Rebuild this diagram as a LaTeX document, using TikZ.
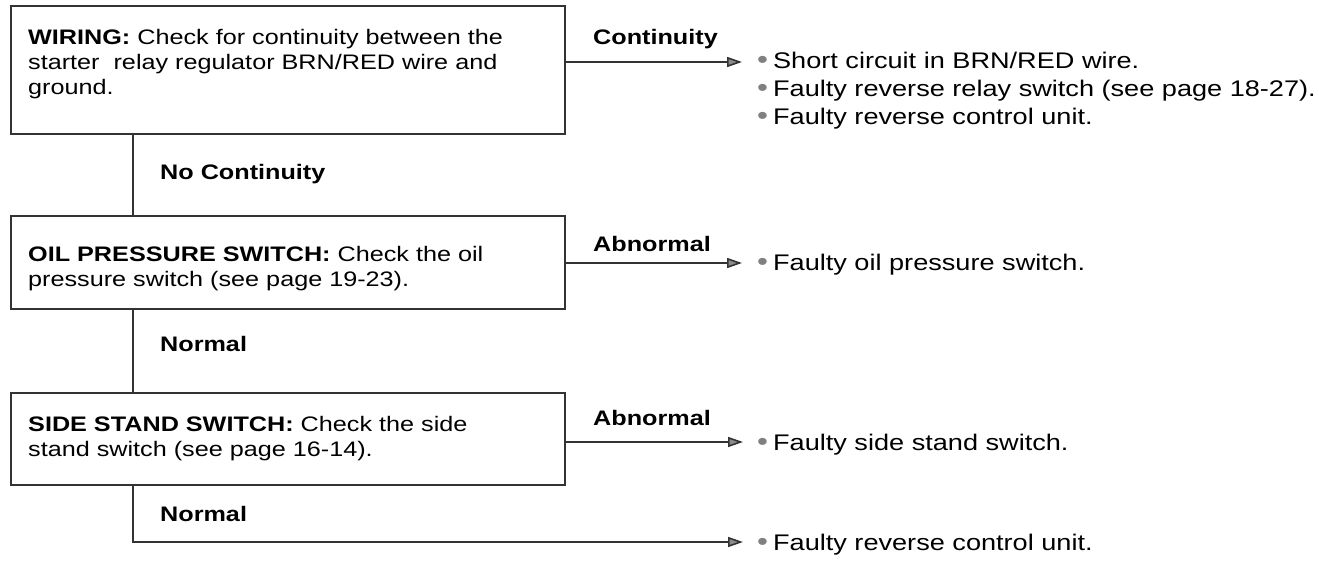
\documentclass[tikz,border=0pt]{standalone}
\usepackage{fontspec}
\setmainfont{Liberation Sans}[FakeStretch=1.2]
\usetikzlibrary{arrows.meta}
\newcommand{\bulmark}{{\color{black!50}\fontsize{26}{26}\selectfont •}\hspace{5pt}}
\begin{document}
\begin{tikzpicture}[x=1pt,y=-1pt,
  font=\fontsize{21}{25}\selectfont,
  box/.style={draw=black!80, line width=1.6pt, inner sep=0pt, minimum width=554pt},
  boxtext/.style={anchor=north west, inner sep=0pt, align=left},
  txt/.style={anchor=base west, inner sep=0pt, font=\fontsize{22.6}{27}\selectfont},
  lbl/.style={anchor=base west, inner sep=0pt, font=\fontsize{21}{25}\selectfont\bfseries},
  conn/.style={draw=black!80, line width=1.6pt},
  arr/.style={conn, -{Triangle[length=15pt,width=10pt,fill=black!45]}}]
\useasboundingbox (0,0) rectangle (1319,561);

% boxes
\node[box, minimum height=128pt] (b1) at (288,70) {};
\node[box, minimum height=93pt] (b2) at (288,262.5) {};
\node[box, minimum height=92pt] (b3) at (288,439) {};

\node[boxtext] (t1) at (28,29.5) {\textbf{WIRING:} Check for continuity between the\\starter~ relay regulator BRN/RED wire and\\ground.};
\node[boxtext] (t2) at (28,246.5) {\textbf{OIL PRESSURE SWITCH:} Check the oil\\pressure switch (see page 19-23).};
\node[boxtext] (t3) at (28,416.5) {\textbf{SIDE STAND SWITCH:} Check the side\\stand switch (see page 16-14).};

% vertical connectors
\coordinate (v) at (133,0);
\draw[conn] (v |- b1.south) -- (v |- b2.north);
\draw[conn] (v |- b2.south) -- (v |- b3.north);

% arrow ends
\coordinate (e1) at (742,62);
\coordinate (e2) at (742,263);
\coordinate (e3) at (743,442);
\coordinate (e4) at (743,542);

\draw[arr] (b1.east |- e1) -- (e1);
\draw[arr] (b2.east |- e2) -- (e2);
\draw[arr] (b3.east |- e3) -- (e3);
\draw[arr] (v |- b3.south) |- (e4);

% labels
\node[lbl] (l1) at (593,45) {Continuity};
\node[lbl] (l2) at (160,180) {No Continuity};
\node[lbl] (l3) at (593,252) {Abnormal};
\node[lbl] (l4) at (160,351) {Normal};
\node[lbl] (l5) at (593,425) {Abnormal};
\node[lbl] (l6) at (160,521) {Normal};

% results
\node[txt] (r1) at (757,69) {\bulmark Short circuit in BRN/RED wire.};
\node[txt] (r2) at (757,97) {\bulmark Faulty reverse relay switch (see page 18-27).};
\node[txt] (r3) at (757,125) {\bulmark Faulty reverse control unit.};
\node[txt] (r4) at (757,271) {\bulmark Faulty oil pressure switch.};
\node[txt] (r5) at (757,450) {\bulmark Faulty side stand switch.};
\node[txt] (r6) at (757,550) {\bulmark Faulty reverse control unit.};
\end{tikzpicture}
\end{document}
